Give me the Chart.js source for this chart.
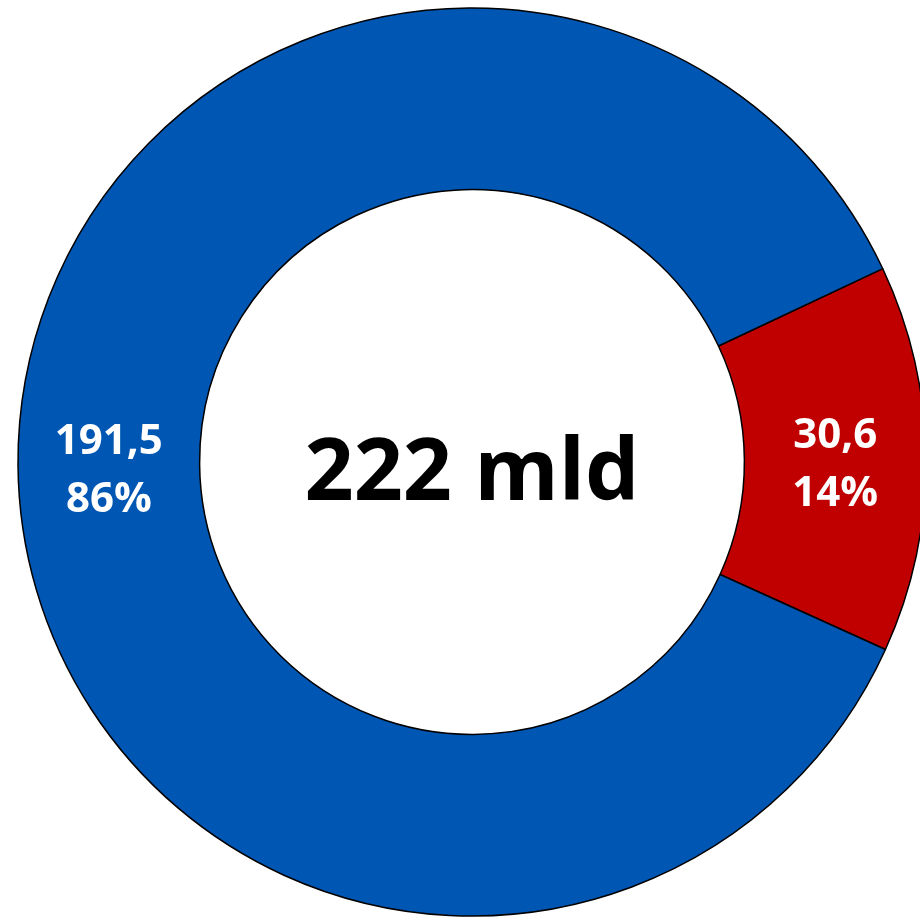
<!DOCTYPE html>
<html>
<head>
<meta charset="utf-8">
<script src="https://cdn.jsdelivr.net/npm/chart.js@4.4.1/dist/chart.umd.min.js"></script>
<style>
  html, body { margin: 0; padding: 0; background: #fff; overflow: hidden; }
  #wrap { position: relative; width: 920px; height: 919px; overflow: hidden; }
  #c { position: absolute; left: 0; top: -10px; }
</style>
</head>
<body>
<div id="wrap"><canvas id="c" width="944" height="944" style="width:944px;height:944px"></canvas></div>
<script>
const categories = ["Czerwony", "Niebieski"];
const values = [30.6, 191.5];
const valueLabels = ["30,6", "191,5"];
const percentLabels = ["14%", "86%"];
const centerLabel = "222 mld";
const colors = ["#C00000", "#0056B3"];

const labelPlugin = {
  id: 'labels',
  afterDatasetsDraw(chart) {
    const ctx = chart.ctx;
    const meta = chart.getDatasetMeta(0);
    ctx.save();
    ctx.fillStyle = '#ffffff';
    ctx.textAlign = 'center';
    ctx.textBaseline = 'alphabetic';
    ctx.font = 'bold 42px "Open Sans"';
    meta.data.forEach((arc, i) => {
      const p = arc.tooltipPosition();
      ctx.fillText(valueLabels[i], p.x, p.y - 11);
      ctx.fillText(percentLabels[i], p.x, p.y + 47);
    });
    const a = meta.data[0];
    ctx.fillStyle = '#000000';
    ctx.font = 'bold 86px "Open Sans"';
    ctx.fillText(centerLabel, a.x, a.y + 38);
    ctx.restore();
  }
};

new Chart(document.getElementById('c'), {
  type: 'doughnut',
  data: {
    labels: categories,
    datasets: [{
      data: values,
      backgroundColor: colors,
      borderColor: '#000000',
      borderWidth: 1.5,
      hoverOffset: 0
    }]
  },
  options: {
    responsive: false,
    animation: false,
    rotation: 64.8,
    radius: 454,
    cutout: '60%',
    layout: { padding: 0 },
    plugins: { legend: { display: false }, tooltip: { enabled: false } },
    events: []
  },
  plugins: [labelPlugin]
});
</script>
</body>
</html>
